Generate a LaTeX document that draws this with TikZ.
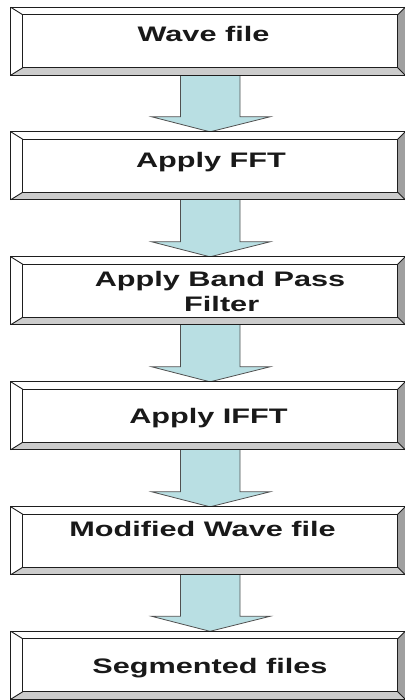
\documentclass[tikz,border=0pt]{standalone}
\usepackage{fontspec}
\setmainfont{Liberation Sans}
\usetikzlibrary{calc}
\definecolor{arrowfill}{RGB}{185,223,227}
\definecolor{arrowline}{RGB}{80,80,80}
\definecolor{bevbot}{RGB}{204,204,204}
\definecolor{bevright}{RGB}{160,160,160}
\definecolor{boxline}{RGB}{30,30,30}
\newcommand\wide[1]{\scalebox{1.46}[1]{#1}}
\newcommand\bevelbox[1]{%
  \coordinate (#1inw) at ($(#1.north west)+(12,7.5)$);
  \coordinate (#1ine) at ($(#1.north east)+(-7.5,7.5)$);
  \coordinate (#1ise) at ($(#1.south east)+(-7.5,-7.5)$);
  \coordinate (#1isw) at ($(#1.south west)+(12,-7.5)$);
  \fill[white] (#1.north west) rectangle (#1.south east);
  \fill[bevbot] (#1.south west) -- (#1.south east) -- (#1ise) -- (#1isw) -- cycle;
  \fill[bevright] (#1.north east) -- (#1.south east) -- (#1ise) -- (#1ine) -- cycle;
  \draw[boxedge] (#1.north west) rectangle (#1.south east);
  \draw[boxedge] (#1inw) rectangle (#1ise);
  \draw[boxedge] (#1.north west) -- (#1inw) (#1.north east) -- (#1ine)
                 (#1.south east) -- (#1ise) (#1.south west) -- (#1isw);
}
\tikzset{
  boxnode/.style={minimum width=394pt, minimum height=67.5pt, inner sep=0pt, draw=none},
  boxedge/.style={draw=boxline, line width=0.9pt},
  txt/.style={font=\fontsize{21}{25}\selectfont\bfseries, anchor=base, inner sep=0pt, text=black!90},
  blockarrow/.style={fill=arrowfill, draw=arrowline, line width=0.8pt, line join=miter},
}
\begin{document}
\begin{tikzpicture}[x=1pt,y=-1pt]
\useasboundingbox (0,0) rectangle (404,700);
% box placeholders
\node[boxnode] (b1) at (208,41.25) {};
\node[boxnode] (b2) at (208,165.75) {};
\node[boxnode] (b3) at (208,290.75) {};
\node[boxnode] (b4) at (208,415.75) {};
\node[boxnode] (b5) at (208,540.75) {};
\node[boxnode] (b6) at (208,665.25) {};
% arrows
\foreach \a/\b in {b1/b2,b2/b3,b3/b4,b4/b5,b5/b6}{
  \draw[blockarrow] ($(\a.south)+(-27.5,0)$) -- ($(\b.north)+(-27.5,-15)$)
     -- ($(\b.north)+(-56.3,-15)$) -- ($(\b.north)+(2,0)$)
     -- ($(\b.north)+(62,-15)$) -- ($(\b.north)+(32,-15)$)
     -- ($(\a.south)+(32,0)$);
}
% boxes
\bevelbox{b1}
\bevelbox{b2}
\bevelbox{b3}
\bevelbox{b4}
\bevelbox{b5}
\bevelbox{b6}
% texts
\node[txt] (t1) at (203.5,41.7) {\wide{Wave file}};
\node[txt] (t2) at (211,168) {\wide{Apply FFT}};
\node[txt] (t3a) at (220,286.7) {\wide{Apply Band Pass}};
\node[txt] (t3b) at (221.7,311.7) {\wide{Filter}};
\node[txt] (t4) at (208.5,423) {\wide{Apply IFFT}};
\node[txt] (t5) at (202.5,536) {\wide{Modified Wave file}};
\node[txt] (t6) at (210,673.3) {\wide{Segmented files}};
\end{tikzpicture}
\end{document}
